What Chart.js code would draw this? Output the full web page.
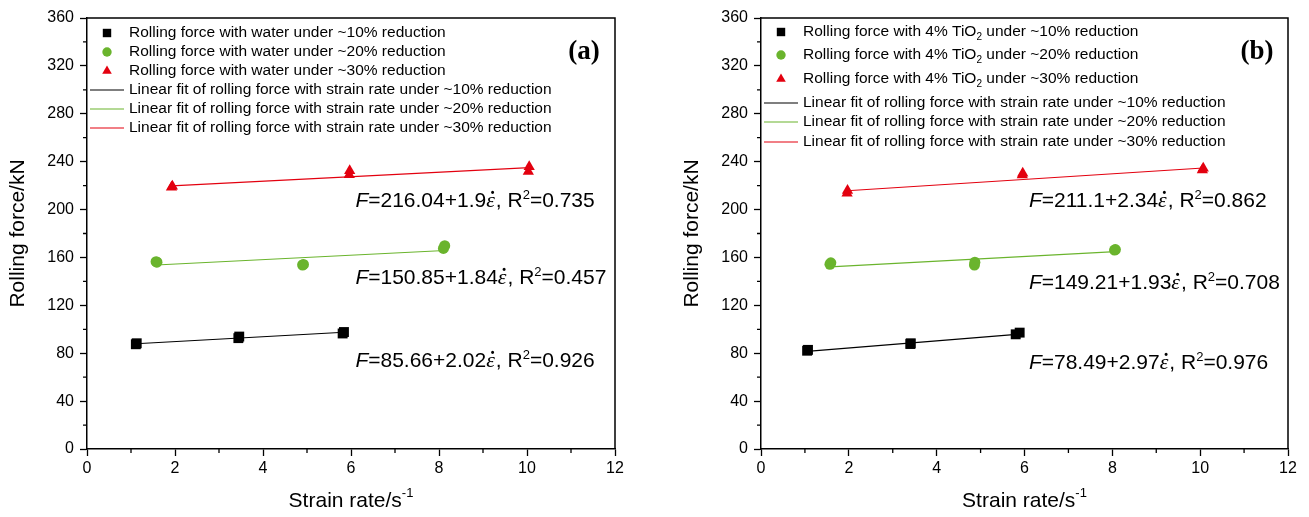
<!DOCTYPE html>
<html>
<head>
<meta charset="utf-8">
<script src="https://cdn.jsdelivr.net/npm/chart.js@4.4.0/dist/chart.umd.min.js"></script>
<style>
html, body { margin: 0; padding: 0; background: #fff; }
#wrap { position: relative; width: 1309px; height: 517px; }
.panel { position: absolute; top: 0; height: 517px; }
</style>
</head>
<body>
<div id="wrap">
	<div class="panel" style="left:0;width:654px"><canvas id="chartA"></canvas></div>
	<div class="panel" style="left:654px;width:655px"><canvas id="chartB"></canvas></div>
</div>
<script>
// axes
const xTicks = [0, 2, 4, 6, 8, 10, 12];
const yTicks = [0, 40, 80, 120, 160, 200, 240, 280, 320, 360];
const xTitle = 'Strain rate/s';
const xTitleSup = '-1';
const yTitle = 'Rolling force/kN';

// panel (a): water
const waterLabels = [
	'Rolling force with water under ~10% reduction',
	'Rolling force with water under ~20% reduction',
	'Rolling force with water under ~30% reduction'
];
const waterX10 = [1.11, 1.13, 3.44, 3.46, 5.81, 5.84];
const waterY10 = [87.5, 88.3, 92.6, 93.9, 96.5, 97.7];
const waterX20 = [1.57, 1.59, 4.90, 4.92, 8.10, 8.13];
const waterY20 = [156.5, 156.0, 153.7, 154.2, 167.5, 169.8];
const waterX30 = [1.92, 1.94, 5.96, 5.97, 10.03, 10.05];
const waterY30 = [218.6, 219.4, 229.0, 232.5, 231.7, 235.8];
// fitted line end points
const waterFitX = [[1.11, 5.84], [1.57, 8.13], [1.92, 10.05]];
const waterFitY = [[87.9, 97.5], [153.7, 165.8], [219.7, 235.1]];
const waterIntercept = ['85.66', '150.85', '216.04'];
const waterSlope = ['2.02', '1.84', '1.9'];
const waterR2 = ['0.926', '0.457', '0.735'];

// panel (b): 4% TiO2
const tioLabels = [
	'Rolling force with 4% TiO₂ under ~10% reduction',
	'Rolling force with 4% TiO₂ under ~20% reduction',
	'Rolling force with 4% TiO₂ under ~30% reduction'
];
const tioX10 = [1.05, 1.07, 3.40, 3.41, 5.80, 5.89];
const tioY10 = [82.1, 82.8, 87.7, 88.3, 95.8, 97.2];
const tioX20 = [1.57, 1.59, 4.86, 4.87, 8.05, 8.07];
const tioY20 = [154.3, 155.5, 153.6, 156.0, 166.2, 166.6];
const tioX30 = [1.96, 1.97, 5.95, 5.96, 10.05, 10.07];
const tioY30 = [213.6, 216.0, 228.9, 230.4, 233.0, 234.4];
const tioFitX = [[1.05, 5.89], [1.57, 8.07], [1.96, 10.07]];
const tioFitY = [[81.6, 96.0], [152.2, 164.8], [215.7, 234.7]];
const tioIntercept = ['78.49', '149.21', '211.1'];
const tioSlope = ['2.97', '1.93', '2.34'];
const tioR2 = ['0.976', '0.708', '0.862'];

const fitLabels = [
	'Linear fit of rolling force with strain rate under ~10% reduction',
	'Linear fit of rolling force with strain rate under ~20% reduction',
	'Linear fit of rolling force with strain rate under ~30% reduction'
];

const colors = ['#000000', '#6ab42d', '#e3000f'];
const styles = ['rect', 'circle', 'triangle'];
const radii = [7, 5.5, 6.5];

const SANS = '"Liberation Sans", Arial, sans-serif';
const SERIF = '"Liberation Serif", "Times New Roman", serif';

function pts(xs, ys) {
	return xs.map((x, i) => ({ x: x, y: ys[i] }));
}

function buildDatasets(labels, xs, ys, fitX, fitY) {
	const sets = [];
	for (let i = 0; i < 3; i++) {
		sets.push({
			label: labels[i],
			data: pts(xs[i], ys[i]),
			showLine: false,
			pointStyle: styles[i],
			pointRadius: radii[i],
			pointHoverRadius: radii[i],
			backgroundColor: colors[i],
			borderColor: colors[i],
			borderWidth: 0,
			order: 1
		});
	}
	for (let i = 0; i < 3; i++) {
		sets.push({
			label: fitLabels[i],
			data: pts(fitX[i], fitY[i]),
			showLine: true,
			pointRadius: 0,
			borderColor: colors[i],
			borderWidth: 1.2,
			fill: false,
			order: 2
		});
	}
	return sets;
}

// draws text pieces: [text, font, dy]
function drawRuns(ctx, x, y, runs) {
	let cx = x;
	for (const r of runs) {
		ctx.font = r[1];
		ctx.fillText(r[0], cx, y + (r[2] || 0));
		cx += ctx.measureText(r[0]).width;
	}
	return cx;
}

const decoPlugin = {
	id: 'deco',
	afterDraw(chart, args, o) {
		const { ctx, chartArea: a } = chart;
		const xs = chart.scales.x, ys = chart.scales.y;
		ctx.save();
		ctx.fillStyle = '#000';
		ctx.strokeStyle = '#000';

		// top and right frame
		ctx.lineWidth = 1.5;
		ctx.beginPath();
		ctx.moveTo(a.left, a.top);
		ctx.lineTo(a.right, a.top);
		ctx.lineTo(a.right, a.bottom);
		ctx.stroke();

		// minor ticks half way between major ticks
		ctx.lineWidth = 1.3;
		ctx.beginPath();
		for (let i = 0; i < xTicks.length - 1; i++) {
			const px = xs.getPixelForValue((xTicks[i] + xTicks[i + 1]) / 2);
			ctx.moveTo(px, a.bottom);
			ctx.lineTo(px, a.bottom + 4);
		}
		for (let i = 0; i < yTicks.length - 1; i++) {
			const py = ys.getPixelForValue((yTicks[i] + yTicks[i + 1]) / 2);
			ctx.moveTo(a.left, py);
			ctx.lineTo(a.left - 4, py);
		}
		ctx.stroke();

		// axis titles
		ctx.textBaseline = 'middle';
		ctx.textAlign = 'left';
		const tf = '21px ' + SANS;
		ctx.font = tf;
		const w1 = ctx.measureText(xTitle).width;
		ctx.font = '13px ' + SANS;
		const w2 = ctx.measureText(xTitleSup).width;
		const cx = (a.left + a.right) / 2;
		drawRuns(ctx, cx - (w1 + w2) / 2, 501, [[xTitle, tf, 0], [xTitleSup, '13px ' + SANS, -8]]);

		ctx.save();
		ctx.translate(a.left - 69, (a.top + a.bottom) / 2);
		ctx.rotate(-Math.PI / 2);
		ctx.textAlign = 'center';
		ctx.font = tf;
		ctx.fillText(yTitle, 0, 0);
		ctx.restore();

		// legend inside the plot
		const lf = '15.5px ' + SANS;
		chart.data.datasets.forEach((ds, i) => {
			const ry = o.legendRows[i];
			if (ds.showLine) {
				ctx.strokeStyle = ds.borderColor;
				ctx.lineWidth = 1.2;
				ctx.beginPath();
				ctx.moveTo(a.left + 3, ry);
				ctx.lineTo(a.left + 37, ry);
				ctx.stroke();
			} else {
				ctx.fillStyle = ds.backgroundColor;
				ctx.strokeStyle = ds.borderColor;
				ctx.lineWidth = 0;
				Chart.helpers.drawPoint(ctx, { pointStyle: ds.pointStyle, radius: ds.pointRadius * 0.85, rotation: 0, borderWidth: 0 }, a.left + 20, ry);
			}
			ctx.fillStyle = '#000';
			const parts = ds.label.split('₂');
			const runs = [];
			parts.forEach((p, k) => {
				runs.push([p, lf, 0]);
				if (k < parts.length - 1) runs.push(['2', '10px ' + SANS, 5]);
			});
			drawRuns(ctx, a.left + 42, ry, runs);
		});

		// fit equations (alphabetic baseline so the epsilon sits on the line)
		ctx.textBaseline = 'alphabetic';
		const ef = '21px ' + SANS;
		const efi = 'italic 21px ' + SANS;
		for (let i = 0; i < 3; i++) {
			const ex = xs.getPixelForValue(o.eqX);
			const ey = ys.getPixelForValue(o.eqY[i]) + 7.5;
			ctx.fillStyle = '#000';
			let px = drawRuns(ctx, ex, ey, [['F', efi, 0], ['=' + o.intercept[i] + '+' + o.slope[i], ef, 0]]);
			ctx.font = 'italic 22px ' + SERIF;
			const epsW = ctx.measureText('ε').width;
			ctx.fillText('ε', px, ey);
			ctx.textAlign = 'center';
			ctx.font = 'bold 20px ' + SERIF;
			ctx.fillText('˙', px + epsW / 2 + 2, ey - 1);
			ctx.textAlign = 'left';
			px += epsW + 1;
			drawRuns(ctx, px, ey, [[', R', ef, 0], ['2', '13px ' + SANS, -8], ['=' + o.r2[i], ef, 0]]);
		}

		// panel label
		ctx.textBaseline = 'middle';
		ctx.font = 'bold 27px ' + SERIF;
		ctx.textAlign = 'center';
		ctx.fillText(o.tag, a.right - 31, 52);
		ctx.restore();
	}
};

function makeChart(id, datasets, yWidth, rightPad, deco) {
	return new Chart(document.getElementById(id), {
		type: 'scatter',
		data: { datasets: datasets },
		plugins: [decoPlugin],
		options: {
			responsive: true,
			maintainAspectRatio: false,
			animation: false,
			layout: { padding: { top: 18, right: rightPad, bottom: 0, left: 0 } },
			plugins: {
				legend: { display: false },
				tooltip: { enabled: false },
				deco: deco
			},
			scales: {
				x: {
					type: 'linear', min: 0, max: 12,
					afterBuildTicks: s => { s.ticks = xTicks.map(v => ({ value: v })); },
					ticks: { color: '#000', font: { size: 16, family: SANS }, padding: 3, maxRotation: 0 },
					grid: { display: true, drawOnChartArea: false, drawTicks: true, tickLength: 7, color: '#000', tickColor: '#000', tickWidth: 1.3 },
					border: { display: true, color: '#000', width: 1.5 },
					afterFit: s => { s.height = 68; }
				},
				y: {
					type: 'linear', min: 0, max: 360,
					afterBuildTicks: s => { s.ticks = yTicks.map(v => ({ value: v })); },
					ticks: { color: '#000', font: { size: 16, family: SANS }, padding: 6 },
					grid: { display: true, drawOnChartArea: false, drawTicks: true, tickLength: 7, color: '#000', tickColor: '#000', tickWidth: 1.3 },
					border: { display: true, color: '#000', width: 1.5 },
					afterFit: s => { s.width = yWidth; }
				}
			}
		}
	});
}

makeChart('chartA',
	buildDatasets(waterLabels, [waterX10, waterX20, waterX30], [waterY10, waterY20, waterY30], waterFitX, waterFitY),
	87, 39,
	{ tag: '(a)', legendRows: [33, 52, 71, 90, 109, 128], eqX: 6.1, eqY: [75, 144, 208],
		intercept: waterIntercept, slope: waterSlope, r2: waterR2 });

makeChart('chartB',
	buildDatasets(tioLabels, [tioX10, tioX20, tioX30], [tioY10, tioY20, tioY30], tioFitX, tioFitY),
	107, 21,
	{ tag: '(b)', legendRows: [32, 55, 79, 103, 122, 142], eqX: 6.1, eqY: [73.5, 140, 208],
		intercept: tioIntercept, slope: tioSlope, r2: tioR2 });
</script>
</body>
</html>
